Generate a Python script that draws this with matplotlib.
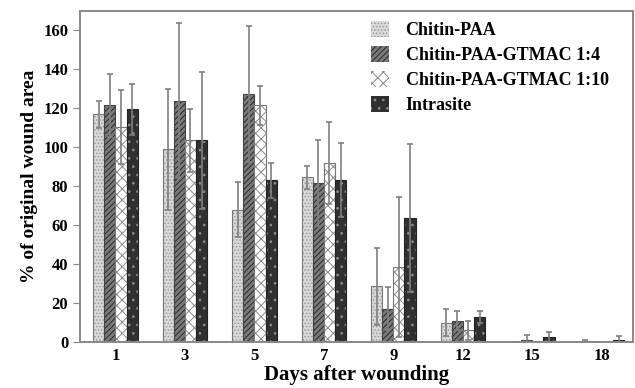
import numpy as np
import matplotlib.pyplot as plt

days = ['1', '3', '5', '7', '9', '12', '15', '18']
series = ['Chitin-PAA', 'Chitin-PAA-GTMAC 1:4', 'Chitin-PAA-GTMAC 1:10', 'Intrasite']

chitin_paa = [117, 99, 68, 84.5, 28.5, 10, 0, 0.3]
gtmac_14 = [121.5, 124, 127.5, 81.5, 17, 11, 1, 0]
gtmac_110 = [110.5, 103.5, 121.5, 92, 38.5, 6, 0, 0]
intrasite = [119.5, 103.5, 83, 83, 63.5, 13, 2.5, 1]

err_paa = [7, 31, 14, 6, 20, 7, 0, 0.7]
err_14 = [16, 40, 35, 22, 11, 5, 2.5, 0]
err_110 = [19, 16, 10, 21, 36, 5, 0, 0]
err_intra = [13, 35, 9, 19, 38, 3, 2.5, 2]

values = [chitin_paa, gtmac_14, gtmac_110, intrasite]
errors = [err_paa, err_14, err_110, err_intra]

faces = ['#d9d9d9', '#7a7a7a', '#ffffff', '#303030']
hatch_cols = ['#9a9a9a', '#2a2a2a', '#8a8a8a', '#8c8c8c']
hatches = ['.....', '//////', 'xxx', '..']
outline = ['#777777', '#444444', '#777777', '#222222']

plt.rcParams['font.family'] = 'Liberation Serif'
plt.rcParams['font.weight'] = 'bold'
plt.rcParams['axes.labelweight'] = 'bold'
plt.rcParams['hatch.linewidth'] = 0.7

fig = plt.figure(figsize=(6.35, 3.88), dpi=100)
ax = fig.add_axes([0.126, 0.1186, 0.871, 0.853])

x = np.arange(len(days))
w = 0.16
for i in range(4):
    pos = x + (i - 1.5) * w
    ax.bar(pos, values[i], w, color=faces[i], edgecolor=hatch_cols[i],
           hatch=hatches[i], linewidth=0, label=series[i])
    ax.bar(pos, values[i], w, fill=False, edgecolor=outline[i], linewidth=0.8)
    ax.errorbar(pos, values[i], yerr=errors[i], fmt='none', ecolor='#7f7f7f',
                elinewidth=1.2, capsize=2.5, capthick=1.2)

ax.set_xlim(-0.51, 7.45)
ax.set_ylim(0, 170)
ax.set_xticks(x)
ax.set_xticklabels(days)
ax.set_yticks(range(0, 161, 20))
ax.tick_params(axis='x', length=0, labelsize=12, pad=4)
ax.tick_params(axis='y', direction='out', length=5, color='#888888', labelsize=12)
for s in ax.spines.values():
    s.set_color('#888888')
    s.set_linewidth(1.4)

ax.set_xlabel('Days after wounding', fontsize=15, labelpad=1)
ax.set_ylabel('% of original wound area', fontsize=14, labelpad=4)

leg = ax.legend(loc='upper right', bbox_to_anchor=(0.985, 1.02), frameon=False,
                fontsize=13, handlelength=1.0, handleheight=1.0,
                handletextpad=0.9, labelspacing=0.38)

fig.savefig('out.png', dpi=100)
